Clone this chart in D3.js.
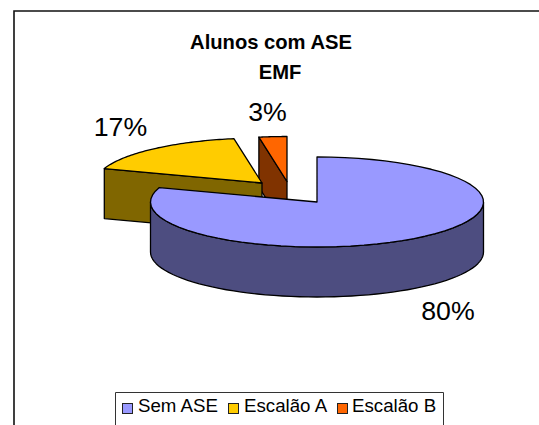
<!DOCTYPE html>
<html><head><meta charset="utf-8">
<script src="https://cdn.jsdelivr.net/npm/d3@7"></script>
<style>html,body{margin:0;padding:0;background:#fff}svg{display:block}text{font-family:"Liberation Sans",Arial,sans-serif;fill:#000}</style>
</head><body><svg id="c" width="539" height="425"></svg>
<script>
const categories = ["Sem ASE", "Escalão A", "Escalão B"];
const values = [80.2, 17.1, 2.7];
const valueLabels = ["80%", "17%", "3%"];
const topColors = ["#9999FF", "#FFCC00", "#FF6600"];
const sideColors = ["#4D4D80", "#806600", "#803300"];
const titleLines = ["Alunos com ASE", "EMF"];

const svg = d3.select("#c");
const cx = 317, cy = 202, rx = 166.5, ry = 45, depth = 50;
const offsets = [[0, 0], [-55, -19], [-30, -20.5]];
const labelPos = [[448, 320], [120.5, 136], [267.5, 121]];
const titlePos = [[271, 49], [280, 79]];

const slices = d3.pie().sort(null).value(d => d)(values);
const rScale = d3.scaleLinear().domain([0, 1]).range([0, rx]);
const yScale = d3.scaleLinear().domain([0, 1]).range([0, ry]);
const px = (a, o) => cx + o[0] + rScale(Math.sin(a));
const py = (a, o, dz = 0) => cy + o[1] - yScale(Math.cos(a)) + dz;
const line = d3.line();
const arcPts = (a0, a1, o, dz = 0) => d3.range(0, 61).map(i => {
  const a = a0 + (a1 - a0) * i / 60;
  return [px(a, o), py(a, o, dz)];
});
const stroke = (sel) => sel.attr("stroke", "#000").attr("stroke-width", 1.3).attr("stroke-linejoin", "round");

// chart frame
svg.append("path").attr("d", "M14,425V11H539").attr("fill", "none").attr("stroke", "#111").attr("stroke-width", 1.6);

// title
titleLines.forEach((t, i) => svg.append("text").attr("x", titlePos[i][0]).attr("y", titlePos[i][1])
  .attr("text-anchor", "middle").attr("font-size", 20.2).attr("font-weight", "bold").text(t));

// exploded slices back to front: orange, yellow, main
function drawSlice(i) {
  const s = slices[i], o = offsets[i];
  const a0 = s.startAngle, a1 = s.endAngle;
  const apex = [cx + o[0], cy + o[1]];
  const apexLow = [apex[0], apex[1] + depth];
  const start = [px(a0, o), py(a0, o)];
  if (i === 0) {
    // visible rim from the right extreme round the front to the left extreme
    const rimA = Math.PI / 2, rimB = 3 * Math.PI / 2;
    const rim = arcPts(rimA, rimB, o).concat(arcPts(rimA, rimB, o, depth).reverse());
    svg.append("path").attr("d", line(rim) + "Z").attr("fill", sideColors[i]).call(stroke);
  } else {
    // cut face running from the first radius edge to the apex
    const face = [start, apex, apexLow, [start[0], start[1] + depth]];
    svg.append("path").attr("d", line(face) + "Z").attr("fill", sideColors[i]).call(stroke);
  }
  const top = [apex].concat(arcPts(a0, a1, o));
  svg.append("path").attr("d", line(top) + "Z").attr("fill", topColors[i]).call(stroke);
}
[2, 1, 0].forEach(drawSlice);

// data labels
values.forEach((v, i) => svg.append("text").attr("x", labelPos[i][0]).attr("y", labelPos[i][1])
  .attr("text-anchor", "middle").attr("font-size", 26.7).text(valueLabels[i]));

// legend
svg.append("path").attr("d", "M115.5,425V392.5H443.5V425").attr("fill", "#fff").attr("stroke", "#333").attr("stroke-width", 1);
const legendSwatchX = [122.5, 228.5, 337.5], legendTextX = [138, 244, 352];
categories.forEach((c, i) => {
  svg.append("rect").attr("x", legendSwatchX[i]).attr("y", 403.5).attr("width", 10).attr("height", 10)
    .attr("fill", topColors[i]).attr("stroke", "#222").attr("stroke-width", 1);
  svg.append("text").attr("x", legendTextX[i]).attr("y", 412).attr("font-size", 18.7).text(c);
});
</script></body></html>
